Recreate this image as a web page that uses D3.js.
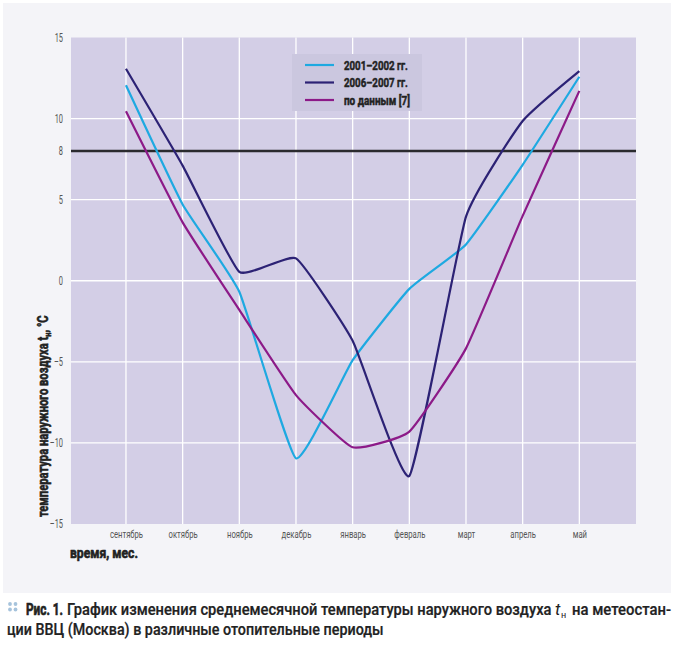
<!DOCTYPE html>
<html><head><meta charset="utf-8">
<script src="https://cdn.jsdelivr.net/npm/d3@7"></script>
<style>
html,body{margin:0;padding:0;background:#fff;}
svg{display:block;}
text{font-family:Roboto,"Noto Sans",sans-serif;}
</style></head>
<body>
<svg id="chart" width="677" height="647"></svg>
<script>
const months = ["сентябрь","октябрь","ноябрь","декабрь","январь","февраль","март","апрель","май"];
const series2001 = [12.05, 4.7, -0.68, -10.95, -4.9, -0.5, 2.24, 7.15, 12.58];
const series2006 = [13.07, 7.1, 0.55, 1.38, -3.7, -12.04, 3.95, 9.85, 12.93];
const seriesRef  = [10.45, 3.6, -1.8, -7.05, -10.27, -9.3, -4.17, 4.0, 11.71];
const seriesNames = ["2001–2002 гг.", "2006–2007 гг.", "по данным [7]"];
const seriesColors = ["#1ea9e1", "#2c2275", "#8c1a88"];
const yTicks = [15, 10, 8, 5, 0, -5, -10, -15];
const yGrid = [10, 5, 0, -5, -10];
const threshold = 8;

const BOLD = 'Roboto,sans-serif';
const svg = d3.select("#chart");
function fit(t, w) {
  const n = t.node().getComputedTextLength();
  t.attr("transform", `scale(${w / n},1)`);
  return t;
}
function heavy(t, sw) { return t.attr("stroke","#222").attr("stroke-width",sw).attr("stroke-linejoin","round"); }

svg.append("rect").attr("x",3).attr("y",3).attr("width",668).attr("height",590).attr("fill","#f4f4f8");

const x = d3.scaleLinear().domain([-0.97, 9]).range([71, 636]);
const y = d3.scaleLinear().domain([-15, 15]).range([524, 37.5]);

svg.append("rect").attr("x",x(-0.97)).attr("y",y(15)).attr("width",x(9)-x(-0.97)).attr("height",y(-15)-y(15)).attr("fill","#d3cee6");

svg.append("g").selectAll("line").data(months.map((m,i)=>i)).join("line")
  .attr("x1",d=>x(d)).attr("x2",d=>x(d)).attr("y1",y(15)).attr("y2",y(-15))
  .attr("stroke","#fff").attr("stroke-width",1.3);
svg.append("g").selectAll("line").data(yGrid).join("line")
  .attr("x1",x(-0.97)).attr("x2",x(9)).attr("y1",d=>y(d)).attr("y2",d=>y(d))
  .attr("stroke","#fff").attr("stroke-width",1.3);

svg.append("line").attr("x1",x(-0.97)).attr("x2",x(9)).attr("y1",y(threshold)).attr("y2",y(threshold))
  .attr("stroke","#2a2a2e").attr("stroke-width",2.4);

const yAxis = d3.axisLeft(y).tickValues(yTicks).tickSize(0).tickPadding(0)
  .tickFormat(d => d < 0 ? "–" + Math.abs(d) : String(d));
const ya = svg.append("g").attr("transform",`translate(${x(-0.97)-8},0)`).call(yAxis);
ya.select(".domain").remove();
ya.selectAll("text").attr("x",0).attr("font-size",12).attr("fill","#555")
  .attr("font-family","Roboto").attr("transform","scale(0.62,1)");

const xAxis = d3.axisBottom(x).tickValues(months.map((m,i)=>i)).tickSize(0).tickPadding(6)
  .tickFormat(i => months[i]);
const xa = svg.append("g").attr("transform",`translate(0,${y(-15)})`).call(xAxis);
xa.select(".domain").remove();
xa.selectAll("text").attr("font-size",11).attr("fill","#555")
  .attr("font-family","Roboto").attr("transform","scale(0.7,1)");

const line = d3.line().x((d,i)=>x(i)).y(d=>y(d)).curve(d3.curveCardinal.tension(0.6));
[series2001, series2006, seriesRef].forEach((s,k)=>{
  svg.append("path").datum(s).attr("d",line).attr("fill","none")
    .attr("stroke",seriesColors[k]).attr("stroke-width",2.2).attr("stroke-linejoin","round");
});

const lg = svg.append("g");
lg.append("rect").attr("x",292).attr("y",54).attr("width",130).attr("height",57).attr("fill","#cbc7df");
seriesNames.forEach((n,k)=>{
  const yy = 65 + k*17.5;
  lg.append("line").attr("x1",305).attr("x2",334).attr("y1",yy).attr("y2",yy)
    .attr("stroke",seriesColors[k]).attr("stroke-width",2.2);
  const g = lg.append("g").attr("transform",`translate(344,${yy+4.5})`);
  heavy(fit(g.append("text").attr("font-size",12.5).attr("font-weight",700).attr("font-family",BOLD)
    .attr("fill","#222").text(n), k===2?66:64), 0.5);
});

const gx = svg.append("g").attr("transform","translate(70,558)");
heavy(fit(gx.append("text").attr("font-size",14.5).attr("font-weight",700).attr("font-family",BOLD)
  .attr("fill","#222").text("время, мес."), 68), 0.6);

const gy = svg.append("g").attr("transform","translate(48,517) rotate(-90)");
const yt = gy.append("text").attr("font-size",14.5).attr("font-weight",700).attr("font-family",BOLD).attr("fill","#222");
yt.append("tspan").text("температура наружного воздуха t");
yt.append("tspan").attr("font-size",9.5).attr("dy",3).text("н");
yt.append("tspan").attr("dy",-3).text(", °C");
heavy(fit(yt, 202), 0.6);

const dots = svg.append("g").attr("fill","#a6c3dc");
[[10,604],[15.5,604],[10,609.5],[15.5,609.5]].forEach(p=>dots.append("circle").attr("cx",p[0]).attr("cy",p[1]).attr("r",1.9));
const cap = svg.append("g").attr("fill","#222");
function piece(x0, y0, w, txt, weight, sw) {
  const g = cap.append("g").attr("transform",`translate(${x0},${y0})`);
  const t = g.append("text").attr("font-size",17).attr("font-family",BOLD).attr("font-weight",weight||500).text(txt);
  fit(t, w);
  if (sw) heavy(t, sw);
  return t;
}
piece(26, 615, 37, "Рис. 1.", 700, 0.7);
piece(67, 615, 485, "График изменения среднемесячной температуры наружного воздуха", 500, 0.25);
cap.append("text").attr("x",555).attr("y",615).attr("font-size",17).attr("font-style","italic")
  .attr("font-family","Liberation Serif, serif").text("t");
cap.append("text").attr("x",561).attr("y",618).attr("font-size",9).attr("font-family","Liberation Serif, serif").text("н");
piece(572, 615, 99, "на метеостан-", 500, 0.25);
piece(7, 635, 377, "ции ВВЦ (Москва) в различные отопительные периоды", 500, 0.25);
</script>
</body></html>
